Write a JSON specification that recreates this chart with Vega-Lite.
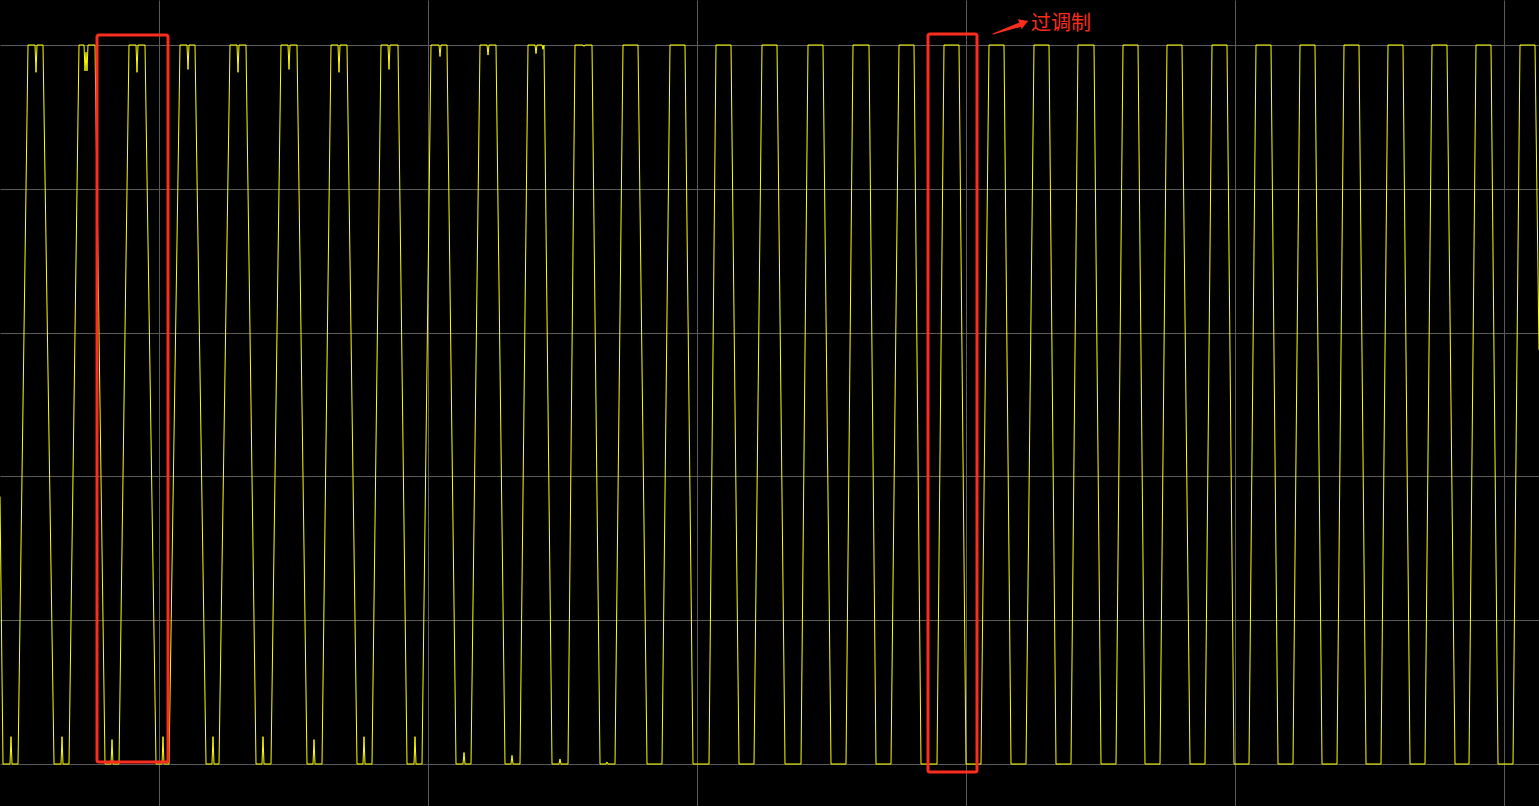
{
  "$schema": "https://vega.github.io/schema/vega-lite/v6.json",
  "width": 1539,
  "height": 806,
  "autosize": {"type": "fit", "contains": "padding"},
  "padding": 0,
  "background": "#000000",
  "config": {"view": {"stroke": null, "fill": "#000000"}},
  "datasets": {
    "wave": [
      {"t":0,"v":1.86},
      {"t":3,"v":0},{"t":10,"v":0},{"t":11,"v":0.19},{"t":12,"v":0},{"t":18,"v":0},
      {"t":28,"v":5},{"t":35,"v":5},{"t":36,"v":4.81},{"t":37,"v":5},{"t":43,"v":5},
      {"t":54,"v":0},{"t":61,"v":0},{"t":62,"v":0.19},{"t":63,"v":0},{"t":69,"v":0},
      {"t":79,"v":5},{"t":84,"v":5},{"t":85,"v":4.82},{"t":86,"v":4.95},{"t":87,"v":4.82},{"t":88,"v":5},{"t":95,"v":5},
      {"t":105,"v":0},{"t":111,"v":0},{"t":112,"v":0.17},{"t":113,"v":0},{"t":119,"v":0},
      {"t":129,"v":5},{"t":136,"v":5},{"t":137,"v":4.81},{"t":138,"v":5},{"t":145,"v":5},
      {"t":156,"v":0},{"t":162,"v":0},{"t":163,"v":0.19},{"t":164,"v":0},{"t":169,"v":0},
      {"t":180,"v":5},{"t":187,"v":5},{"t":188,"v":4.83},{"t":189,"v":5},{"t":195,"v":5},
      {"t":206,"v":0},{"t":212,"v":0},{"t":213,"v":0.19},{"t":214,"v":0},{"t":219,"v":0},
      {"t":230,"v":5},{"t":237,"v":5},{"t":238,"v":4.81},{"t":239,"v":5},{"t":246,"v":5},
      {"t":256,"v":0},{"t":262,"v":0},{"t":263,"v":0.19},{"t":264,"v":0},{"t":271,"v":0},
      {"t":281,"v":5},{"t":288,"v":5},{"t":289,"v":4.83},{"t":290,"v":5},{"t":297,"v":5},
      {"t":307,"v":0},{"t":313,"v":0},{"t":314,"v":0.17},{"t":315,"v":0},{"t":322,"v":0},
      {"t":331,"v":5},{"t":338,"v":5},{"t":339,"v":4.81},{"t":340,"v":5},{"t":347,"v":5},
      {"t":357,"v":0},{"t":363,"v":0},{"t":364,"v":0.19},{"t":365,"v":0},{"t":372,"v":0},
      {"t":381,"v":5},{"t":388,"v":5},{"t":389,"v":4.83},{"t":390,"v":5},{"t":398,"v":5},
      {"t":407,"v":0},{"t":414,"v":0},{"t":415,"v":0.19},{"t":416,"v":0},{"t":422,"v":0},
      {"t":431,"v":5},{"t":439,"v":5},{"t":440,"v":4.92},{"t":441,"v":5},{"t":447,"v":5},
      {"t":456,"v":0},{"t":463,"v":0},{"t":464,"v":0.08},{"t":465,"v":0},{"t":471,"v":0},
      {"t":480,"v":5},{"t":487,"v":5},{"t":488,"v":4.93},{"t":489,"v":5},{"t":496,"v":5},
      {"t":505,"v":0},{"t":511,"v":0},{"t":512,"v":0.06},{"t":513,"v":0},{"t":520,"v":0},
      {"t":528,"v":5},{"t":535,"v":5},{"t":536,"v":4.94},{"t":537,"v":5},{"t":542,"v":5},{"t":543,"v":4.97},{"t":544,"v":5},
      {"t":552,"v":0},{"t":559,"v":0},{"t":560,"v":0.035},{"t":561,"v":0},{"t":568,"v":0},
      {"t":575,"v":5},{"t":583,"v":5},{"t":584,"v":4.99},{"t":585,"v":5},{"t":592,"v":5},
      {"t":600,"v":0},{"t":606,"v":0},{"t":607,"v":0.014},{"t":608,"v":0},{"t":615,"v":0},
      {"t":623,"v":5},{"t":638,"v":5},
      {"t":647,"v":0},{"t":662,"v":0},
      {"t":670,"v":5},{"t":685,"v":5},
      {"t":693,"v":0},{"t":709,"v":0},
      {"t":716,"v":5},{"t":731,"v":5},
      {"t":739,"v":0},{"t":754,"v":0},
      {"t":762,"v":5},{"t":777,"v":5},
      {"t":785,"v":0},{"t":801,"v":0},
      {"t":808,"v":5},{"t":823,"v":5},
      {"t":831,"v":0},{"t":846,"v":0},
      {"t":853,"v":5},{"t":869,"v":5},
      {"t":876,"v":0},{"t":891,"v":0},
      {"t":899,"v":5},{"t":914,"v":5},
      {"t":921,"v":0},{"t":937,"v":0},
      {"t":944,"v":5},{"t":959,"v":5},
      {"t":966,"v":0},{"t":981,"v":0},
      {"t":989,"v":5},{"t":1004,"v":5},
      {"t":1011,"v":0},{"t":1026,"v":0},
      {"t":1034,"v":5},{"t":1049,"v":5},
      {"t":1056,"v":0},{"t":1071,"v":0},
      {"t":1078,"v":5},{"t":1094,"v":5},
      {"t":1101,"v":0},{"t":1116,"v":0},
      {"t":1123,"v":5},{"t":1138,"v":5},
      {"t":1145,"v":0},{"t":1160,"v":0},
      {"t":1167,"v":5},{"t":1182,"v":5},
      {"t":1190,"v":0},{"t":1205,"v":0},
      {"t":1212,"v":5},{"t":1227,"v":5},
      {"t":1234,"v":0},{"t":1249,"v":0},
      {"t":1256,"v":5},{"t":1271,"v":5},
      {"t":1278,"v":0},{"t":1293,"v":0},
      {"t":1300,"v":5},{"t":1315,"v":5},
      {"t":1322,"v":0},{"t":1337,"v":0},
      {"t":1344,"v":5},{"t":1359,"v":5},
      {"t":1366,"v":0},{"t":1381,"v":0},
      {"t":1388,"v":5},{"t":1403,"v":5},
      {"t":1410,"v":0},{"t":1425,"v":0},
      {"t":1432,"v":5},{"t":1447,"v":5},
      {"t":1455,"v":0},{"t":1469,"v":0},
      {"t":1476,"v":5},{"t":1491,"v":5},
      {"t":1498,"v":0},{"t":1513,"v":0},
      {"t":1520,"v":5},{"t":1535,"v":5},
      {"t":1539,"v":2.88}
    ],
    "boxes": [
      {"t":97,"t2":168,"v":5.07,"v2":0.014},
      {"t":928,"t2":977,"v":5.077,"v2":-0.056}
    ],
    "arrow": [
      {"t":993,"v":5.077,"w":1},
      {"t":1019,"v":5.139,"w":4.5}
    ],
    "arrowhead": [
      {"t":1024,"v":5.156}
    ],
    "label": [
      {"t":1031,"v":5.146,"text":"过调制"}
    ]
  },
  "encoding": {
    "x": {
      "field": "t", "type": "quantitative",
      "scale": {"domain": [0, 1539], "nice": false, "zero": false},
      "axis": {"values": [159, 428, 697, 966, 1235, 1504], "grid": true, "gridColor": "#5a5a5a", "gridWidth": 1, "domain": false, "ticks": false, "labels": false, "title": null}
    },
    "y": {
      "field": "v", "type": "quantitative",
      "scale": {"domain": [-0.292, 5.313], "nice": false, "zero": false},
      "axis": {"values": [0, 1, 2, 3, 4, 5], "grid": true, "gridColor": "#5a5a5a", "gridWidth": 1, "domain": false, "ticks": false, "labels": false, "title": null}
    }
  },
  "layer": [
    {
      "data": {"name": "wave"},
      "mark": {"type": "line", "color": "#ffff00", "strokeWidth": 1, "clip": true}
    },
    {
      "data": {"name": "boxes"},
      "mark": {"type": "rect", "filled": false, "stroke": "#fa2d1e", "strokeWidth": 3, "cornerRadius": 2},
      "encoding": {"x2": {"field": "t2"}, "y2": {"field": "v2"}}
    },
    {
      "data": {"name": "arrow"},
      "mark": {"type": "trail", "color": "#fa2d1e"},
      "encoding": {"size": {"field": "w", "type": "quantitative", "scale": null, "legend": null}}
    },
    {
      "data": {"name": "arrowhead"},
      "mark": {"type": "point", "shape": "triangle-right", "filled": true, "color": "#fa2d1e", "size": 110, "angle": 340, "opacity": 1}
    },
    {
      "data": {"name": "label"},
      "mark": {"type": "text", "color": "#fa2d1e", "font": "Noto Sans CJK SC", "fontSize": 20, "align": "left", "baseline": "middle"},
      "encoding": {"text": {"field": "text"}}
    }
  ]
}
